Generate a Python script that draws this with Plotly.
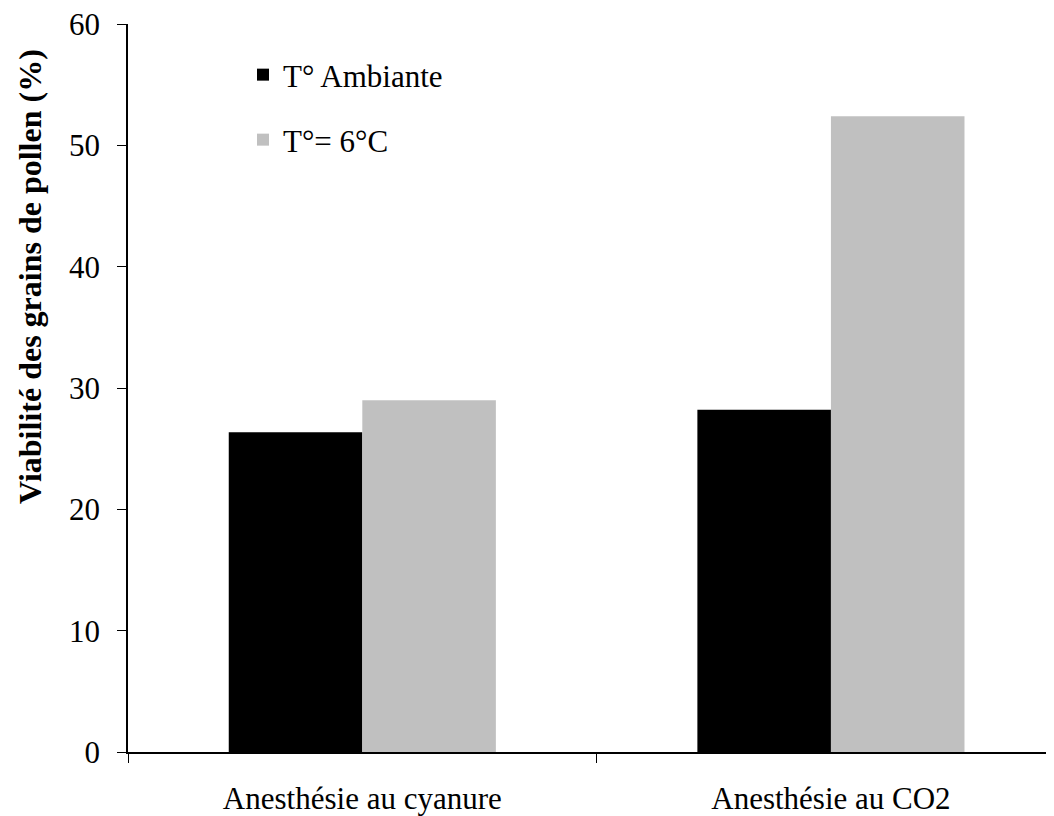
import plotly.graph_objects as go

categories = ["Anesthésie au cyanure", "Anesthésie au CO2"]
series_names = ["T° Ambiante", "T°= 6°C"]
ambiante = [26.35, 28.2]
froid = [29.0, 52.4]
y_ticks = [0, 10, 20, 30, 40, 50, 60]
y_title = "Viabilité des grains de pollen (%)"

# page body adds an 8px offset; layout is expressed in screen pixels
OFF = 8
W, H = 1054 - OFF, 816 - OFF
L, R, T, B = 128 - OFF, 0, 24 - OFF, 816 - 752
pw, ph = W - L - R, H - T - B

def px_x(x):
    return (x - OFF - L) / pw

def px_y(y):
    return (T + ph - (y - OFF)) / ph

FONT = "Liberation Serif, Times New Roman, serif"

fig = go.Figure()
fig.add_trace(go.Bar(x=categories, y=ambiante, name=series_names[0],
                     marker=dict(color="#000000", line=dict(width=0)),
                     legend="legend"))
fig.add_trace(go.Bar(x=categories, y=froid, name=series_names[1],
                     marker=dict(color="#C0C0C0", line=dict(width=0)),
                     legend="legend2"))

fig.update_layout(
    width=W, height=H,
    margin=dict(l=L, r=R, t=T, b=B, autoexpand=False),
    paper_bgcolor="white", plot_bgcolor="white",
    barmode="group", bargap=0.43, bargroupgap=0,
    font=dict(family=FONT, size=31, color="black"),
    showlegend=True,
    legend=dict(x=px_x(243), y=px_y(75), xanchor="left", yanchor="middle",
                bgcolor="rgba(0,0,0,0)", font=dict(size=31)),
    legend2=dict(x=px_x(243), y=px_y(140), xanchor="left", yanchor="middle",
                 bgcolor="rgba(0,0,0,0)", font=dict(size=31)),
    xaxis=dict(
        type="category", range=[-0.5, 1.476],
        showline=True, linecolor="black", linewidth=1.5,
        ticks="outside", ticklen=9, tickcolor="black", tickwidth=1,
        tickson="boundaries", showgrid=False, zeroline=False,
        ticklabelstandoff=18, ticklabeloverflow="allow",
        tickfont=dict(family=FONT, size=31),
    ),
    yaxis=dict(
        range=[0, 60], tickvals=y_ticks,
        showline=True, linecolor="black", linewidth=1.5,
        ticks="outside", ticklen=9, tickcolor="black", tickwidth=1,
        showgrid=False, zeroline=False,
        ticklabelstandoff=11, ticklabeloverflow="allow",
        tickfont=dict(family=FONT, size=31),
    ),
    annotations=[dict(
        text="<b>" + y_title + "</b>", textangle=-90,
        xref="paper", yref="paper", x=px_x(30), y=px_y(277),
        xanchor="center", yanchor="middle", showarrow=False,
        font=dict(family=FONT, size=32, color="black"),
    )],
)

fig.write_html("out.html")
